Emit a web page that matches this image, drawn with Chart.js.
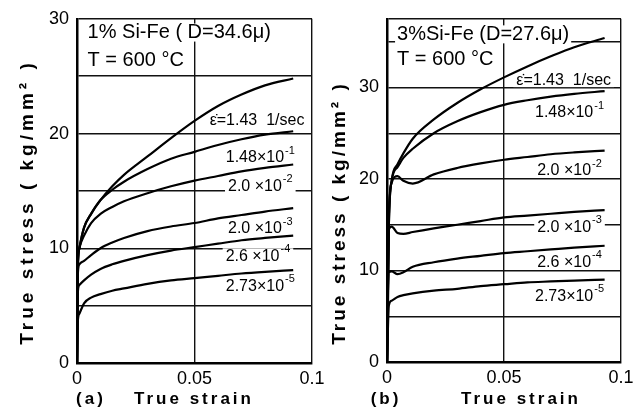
<!DOCTYPE html>
<html>
<head>
<meta charset="utf-8">
<script src="https://cdn.jsdelivr.net/npm/chart.js@4.4.1/dist/chart.umd.min.js"></script>
<style>
html, body { margin: 0; padding: 0; background: #fff; }
#wrap { position: relative; width: 643px; height: 412px; overflow: hidden; }
.panel { position: absolute; top: 0; }
#boxA { left: 0; }
#boxB { left: 322px; }
</style>
</head>
<body>
<div id="wrap">
  <div class="panel" id="boxA"><canvas id="chartA" width="335" height="412"></canvas></div>
  <div class="panel" id="boxB"><canvas id="chartB" width="321" height="412"></canvas></div>
</div>
<script>
// ---- panel (a): 1% Si-Fe, D = 34.6 micron, 600 C ----
const strainA = [0, 0.0003, 0.001, 0.003, 0.006, 0.01, 0.015, 0.02, 0.03, 0.04, 0.05, 0.06, 0.07, 0.08, 0.092];
const stressA_143   = [0, 8.0, 10.0, 11.8, 13.0, 14.2, 15.4, 16.4, 18.0, 19.6, 21.1, 22.4, 23.4, 24.2, 24.8];
const stressA_148m1 = [0, 8.0, 10.0, 11.8, 13.0, 14.2, 15.1, 15.8, 16.9, 17.8, 18.4, 19.0, 19.5, 19.9, 20.2];
const stressA_20m2  = [0, 8.0, 10.0, 11.1, 12.2, 13.0, 13.6, 14.1, 14.8, 15.4, 15.9, 16.3, 16.7, 17.0, 17.3];
const stressA_20m3  = [0, 7.5, 8.6, 8.9, 9.4, 10.0, 10.5, 10.9, 11.5, 11.9, 12.2, 12.6, 12.9, 13.2, 13.5];
const stressA_26m4  = [0, 6.0, 6.8, 7.2, 7.7, 8.2, 8.6, 8.9, 9.4, 9.8, 10.1, 10.4, 10.7, 10.9, 11.1];
const stressA_273m5 = [0, 3.5, 4.3, 5.2, 5.7, 6.0, 6.3, 6.5, 6.9, 7.2, 7.4, 7.6, 7.8, 7.95, 8.1];

// ---- panel (b): 3% Si-Fe, D = 27.6 micron, 600 C ----
const strainB = [0, 0.0008, 0.002, 0.0045, 0.007, 0.011, 0.02, 0.03, 0.04, 0.05, 0.06, 0.07, 0.08, 0.093];
const stressB_143   = [0, 15.0, 19.8, 21.6, 22.8, 24.4, 26.5, 28.3, 29.8, 31.1, 32.3, 33.4, 34.4, 35.4];
const stressB_148m1 = [0, 15.0, 19.8, 21.3, 22.3, 23.3, 25.0, 26.3, 27.3, 28.1, 28.6, 29.0, 29.3, 29.6];
const stressB_20m2  = [0, 16.0, 19.6, 20.3, 19.8, 19.5, 20.5, 21.2, 21.7, 22.1, 22.4, 22.7, 22.9, 23.1];
const stressB_20m3  = [0, 14.5, 14.8, 14.1, 14.0, 14.2, 14.6, 15.0, 15.4, 15.8, 16.0, 16.2, 16.4, 16.6];
const stressB_26m4  = [0, 9.8, 9.9, 9.6, 9.8, 10.4, 10.9, 11.3, 11.6, 11.9, 12.1, 12.3, 12.5, 12.7];
const stressB_273m5 = [0, 6.2, 6.7, 7.1, 7.3, 7.5, 7.8, 8.0, 8.3, 8.5, 8.7, 8.8, 8.9, 9.0];

// strain-rate labels: base text and exponent
const rateBase = ['\u03B5\u0307=1.43  1/sec', '1.48\u00D710', '2.0 \u00D710', '2.0 \u00D710', '2.6 \u00D710', '2.73\u00D710'];
const rateExp  = ['', '-1', '-2', '-3', '-4', '-5'];
const headA = ['1% Si-Fe ( D=34.6\u03BC)', 'T = 600 \u00B0C'];
const headB = ['3%Si-Fe (D=27.6\u03BC)', 'T = 600 \u00B0C'];
const xTicks = [0, 0.05, 0.1];
const yTitle = 'True stress ( kg/mm\u00B2 )';
const xTitle = 'True strain';

const FONT = '"Liberation Sans", Arial, sans-serif';

function pairs(xs, ys) {
    return xs.map((s, i) => ({x: s, y: ys[i]}));
}

function labelWidth(ctx, i) {
    ctx.font = '16px ' + FONT;
    const wb = ctx.measureText(rateBase[i]).width;
    ctx.font = '11px ' + FONT;
    const we = rateExp[i] ? ctx.measureText(rateExp[i]).width + 1 : 0;
    return [wb, we];
}

// text written into the plot (curve labels, header, titles)
const textPlugin = {
    id: 'panelText',
    beforeDatasetsDraw(chart, args, o) {
        const {ctx, scales: {x, y}} = chart;
        ctx.save();
        ctx.fillStyle = '#fff';
        rateBase.forEach((t, i) => {
            const px = x.getPixelForValue(o.labelAt[i][0]);
            const py = y.getPixelForValue(o.labelAt[i][1]);
            const [wb, we] = labelWidth(ctx, i);
            const w = wb + we;
            ctx.fillRect(px - w / 2 - 3, py - 8, w + 6, 15);
        });
        ctx.font = '20px ' + FONT;
        o.head.forEach((t, i) => {
            const px = x.getPixelForValue(o.headAt[i][0]);
            const py = y.getPixelForValue(o.headAt[i][1]);
            ctx.fillRect(px - 2, py - 9, ctx.measureText(t).width + 4, 18);
        });
        ctx.restore();
    },
    afterDatasetsDraw(chart, args, o) {
        const {ctx, scales: {x, y}} = chart;
        ctx.save();
        ctx.fillStyle = '#000';
        ctx.textBaseline = 'middle';
        ctx.textAlign = 'left';
        rateBase.forEach((t, i) => {
            const px = x.getPixelForValue(o.labelAt[i][0]);
            const py = y.getPixelForValue(o.labelAt[i][1]);
            const [wb, we] = labelWidth(ctx, i);
            const x0 = px - (wb + we) / 2;
            ctx.font = '16px ' + FONT;
            ctx.fillText(t, x0, py);
            if (rateExp[i]) {
                ctx.font = '11px ' + FONT;
                ctx.fillText(rateExp[i], x0 + wb + 1, py - 7);
            }
        });
        ctx.font = '20px ' + FONT;
        o.head.forEach((t, i) => {
            ctx.fillText(t, x.getPixelForValue(o.headAt[i][0]), y.getPixelForValue(o.headAt[i][1]));
        });
        // axis titles
        ctx.font = 'bold 17px ' + FONT;
        ctx.letterSpacing = '3px';
        ctx.textAlign = 'center';
        ctx.fillText(xTitle, o.xTitleX, 399);
        ctx.fillText(o.panel, o.panelX, 399);
        ctx.font = 'bold 19px ' + FONT;
        ctx.letterSpacing = o.ySpacing;
        ctx.translate(o.yTitleX, o.yTitleY);
        ctx.rotate(-Math.PI / 2);
        ctx.fillText(yTitle, 0, 0);
        ctx.restore();
    }
};

function makeChart(id, strain, series, yMax, o, pad, yW, xH) {
    const datasets = series.map(s => ({
        data: pairs(strain, s),
        borderColor: '#000',
        borderWidth: 2.2,
        pointRadius: 0,
        fill: false,
        cubicInterpolationMode: 'monotone'
    }));
    return new Chart(document.getElementById(id), {
        type: 'line',
        data: {datasets},
        plugins: [textPlugin],
        options: {
            responsive: false,
            animation: false,
            layout: {padding: pad},
            plugins: {legend: {display: false}, tooltip: {enabled: false}, panelText: o},
            scales: {
                x: {
                    type: 'linear', min: 0, max: 0.1,
                    afterBuildTicks: sc => { sc.ticks = xTicks.map(v => ({value: v})); },
                    afterFit: sc => { sc.height = xH; },
                    ticks: {
                        color: '#000', padding: 5, maxRotation: 0,
                        font: {family: FONT, size: 18},
                        callback: v => String(v)
                    },
                    grid: {color: '#111', lineWidth: 1.4, drawTicks: false},
                    border: {color: '#000', width: 2.5}
                },
                y: {
                    min: 0, max: yMax,
                    ticks: {
                        stepSize: 5, color: '#000', padding: 8,
                        font: {family: FONT, size: 18},
                        callback: v => (v % 10 === 0 ? String(v) : '')
                    },
                    afterFit: sc => { sc.width = yW; },
                    grid: {color: '#111', lineWidth: 1.4, drawTicks: false},
                    border: {color: '#000', width: 2.5}
                }
            }
        }
    });
}

makeChart('chartA', strainA,
    [stressA_143, stressA_148m1, stressA_20m2, stressA_20m3, stressA_26m4, stressA_273m5], 30,
    {
        labelAt: [[0.0766, 21.1], [0.078, 17.9], [0.078, 15.4], [0.078, 11.7], [0.077, 9.3], [0.078, 6.7]],
        head: headA, headAt: [[0.0045, 28.8], [0.0045, 26.4]],
        panel: '(a)', panelX: 91, xTitleX: 194, yTitleX: 28, yTitleY: 202, ySpacing: '4px'
    },
    {left: 0, right: 23, top: 14, bottom: 0}, 77, 49);

makeChart('chartB', strainB,
    [stressB_143, stressB_148m1, stressB_20m2, stressB_20m3, stressB_26m4, stressB_273m5], 37.5,
    {
        labelAt: [[0.0755, 30.8], [0.078, 27.2], [0.078, 20.9], [0.078, 14.7], [0.078, 10.9], [0.078, 7.2]],
        head: headB, headAt: [[0.0043, 35.8], [0.0043, 33.1]],
        panel: '(b)', panelX: 64, xTitleX: 199, yTitleX: 18, yTitleY: 213, ySpacing: '3px'
    },
    {left: 0, right: 22, top: 12, bottom: 0}, 65, 50);
</script>
</body>
</html>
